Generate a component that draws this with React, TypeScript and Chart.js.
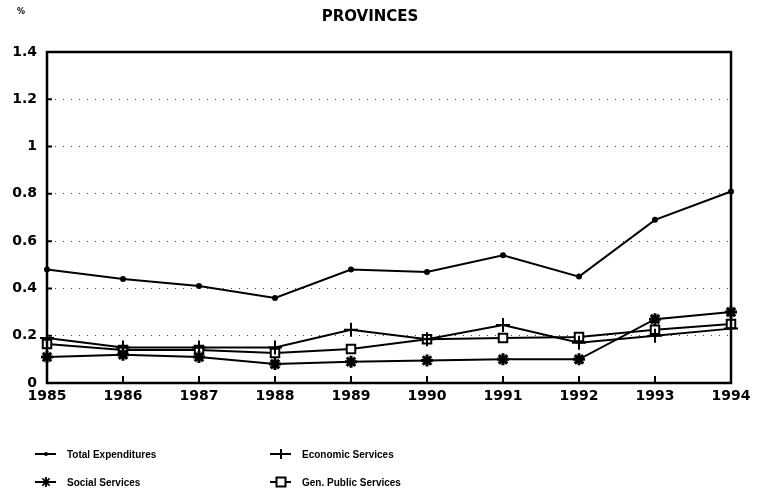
import React, { useEffect, useRef } from "react";
import { Chart, registerables } from "chart.js";

Chart.register(...registerables);

const years = ["1985", "1986", "1987", "1988", "1989", "1990", "1991", "1992", "1993", "1994"];
const totalExpenditures = [0.48, 0.44, 0.41, 0.36, 0.48, 0.47, 0.54, 0.45, 0.69, 0.81];
const economicServices = [0.19, 0.15, 0.15, 0.15, 0.225, 0.185, 0.245, 0.17, 0.2, 0.23];
const socialServices = [0.11, 0.12, 0.11, 0.08, 0.09, 0.095, 0.1, 0.1, 0.27, 0.3];
const genPublicServices = [0.165, 0.14, 0.14, 0.127, 0.144, 0.185, 0.19, 0.195, 0.225, 0.25];
const seriesLabels = ["Total Expenditures", "Economic Services", "Social Services", "Gen. Public Services"];
const yTicks = [0, 0.2, 0.4, 0.6, 0.8, 1, 1.2, 1.4];
const chartTitle = "PROVINCES";
const unitLabel = "%";

const FONT = "'DejaVu Sans', sans-serif";

function drawMarker(ctx: CanvasRenderingContext2D, style: string, x: number, y: number, r: number) {
  ctx.save();
  ctx.strokeStyle = "#000";
  ctx.fillStyle = "#000";
  if (style === "circle") {
    ctx.beginPath();
    ctx.arc(x, y, r, 0, Math.PI * 2);
    ctx.fill();
  } else if (style === "cross") {
    ctx.lineWidth = 2;
    ctx.beginPath();
    ctx.moveTo(x, y - r);
    ctx.lineTo(x, y + r);
    ctx.moveTo(x - r, y);
    ctx.lineTo(x + r, y);
    ctx.stroke();
  } else if (style === "star") {
    ctx.lineWidth = 1.8;
    ctx.beginPath();
    for (let k = 0; k < 4; k++) {
      const a = (k * Math.PI) / 4;
      ctx.moveTo(x + Math.cos(a) * r, y + Math.sin(a) * r);
      ctx.lineTo(x - Math.cos(a) * r, y - Math.sin(a) * r);
    }
    ctx.stroke();
  } else if (style === "rect") {
    ctx.lineWidth = 2;
    ctx.fillStyle = "#fff";
    const s = r * 0.75;
    ctx.fillRect(x - s, y - s, 2 * s, 2 * s);
    ctx.strokeRect(x - s, y - s, 2 * s, 2 * s);
  }
  ctx.restore();
}

const decorPlugin = {
  id: "decor",
  afterDraw(chart: any) {
    const { ctx, chartArea } = chart;
    const { left, right, top, bottom } = chartArea;
    const xs = chart.scales.x;
    const ys = chart.scales.y;
    ctx.save();
    // box
    ctx.strokeStyle = "#000";
    ctx.lineWidth = 2.5;
    ctx.strokeRect(left, top, right - left, bottom - top);
    // inward ticks
    ctx.lineWidth = 2;
    ctx.beginPath();
    for (const v of yTicks) {
      const py = ys.getPixelForValue(v);
      ctx.moveTo(left, py);
      ctx.lineTo(left + 5, py);
    }
    years.forEach((_, i) => {
      const px = xs.getPixelForValue(i);
      ctx.moveTo(px, bottom);
      ctx.lineTo(px, bottom - 7);
    });
    ctx.stroke();
    // title
    ctx.fillStyle = "#000";
    ctx.textAlign = "center";
    ctx.textBaseline = "middle";
    ctx.font = `bold 15px ${FONT}`;
    ctx.fillText(chartTitle, 370, 17);
    ctx.font = `bold 8px ${FONT}`;
    ctx.fillText(unitLabel, 21, 12);
    // legend
    const cols = [35, 270];
    const rows = [454, 482];
    ctx.textAlign = "left";
    ctx.font = `bold 10px 'Liberation Sans', sans-serif`;
    chart.data.datasets.forEach((ds: any, i: number) => {
      const x = cols[i % 2];
      const y = rows[Math.floor(i / 2)];
      ctx.strokeStyle = "#000";
      ctx.lineWidth = 2;
      ctx.beginPath();
      ctx.moveTo(x, y);
      ctx.lineTo(x + 21, y);
      ctx.stroke();
      const r = ds.pointStyle === "circle" ? 2 : ds.pointStyle === "rect" ? 6 : 5;
      drawMarker(ctx, ds.pointStyle, x + 11, y, r);
      ctx.fillStyle = "#000";
      ctx.fillText(ds.label, x + 32, y + 1);
    });
    ctx.restore();
  },
};

export default function App() {
  const ref = useRef<HTMLCanvasElement>(null);
  useEffect(() => {
    document.body.style.margin = "0";
    const common = {
      borderColor: "#000",
      borderWidth: 2,
      pointBorderColor: "#000",
      tension: 0,
    };
    const chart = new Chart(ref.current!, {
      type: "line",
      data: {
        labels: years,
        datasets: [
          { ...common, label: seriesLabels[0], data: totalExpenditures, pointStyle: "circle", pointRadius: 2, pointBackgroundColor: "#000" },
          { ...common, label: seriesLabels[1], data: economicServices, pointStyle: "cross", pointRadius: 7, pointBorderWidth: 2 },
          { ...common, label: seriesLabels[2], data: socialServices, pointStyle: "star", pointRadius: 6, pointBorderWidth: 3 },
          { ...common, label: seriesLabels[3], data: genPublicServices, pointStyle: "rect", pointRadius: 6, pointBorderWidth: 2, pointBackgroundColor: "#fff" },
        ],
      },
      options: {
        responsive: false,
        animation: false,
        layout: { padding: { left: 0, top: 52, right: 31, bottom: 0 } },
        plugins: { legend: { display: false }, title: { display: false }, tooltip: { enabled: false } },
        scales: {
          x: {
            offset: false,
            grid: { display: false, drawTicks: false },
            border: { display: false },
            ticks: { color: "#000", font: { family: FONT, weight: "bold", size: 14 }, padding: 5, maxRotation: 0, autoSkip: false },
            afterFit: (s: any) => { s.height = 114; },
          },
          y: {
            min: 0,
            max: 1.4,
            grid: {
              drawTicks: false,
              color: (c: any) => (c.tick && (c.tick.value === 0 || Math.abs(c.tick.value - 1.4) < 1e-6) ? "rgba(0,0,0,0)" : "#444"),
              lineWidth: 1,
            },
            border: { display: false, dash: [1, 7] },
            ticks: {
              stepSize: 0.2,
              color: "#000",
              font: { family: FONT, weight: "bold", size: 14 },
              padding: 10,
              callback: (v: any) => String(Math.round(Number(v) * 10) / 10),
            },
            afterFit: (s: any) => { s.width = 47; },
          },
        },
      },
      plugins: [decorPlugin],
    } as any);
    return () => chart.destroy();
  }, []);
  return (
    <div style={{ position: "absolute", left: 0, top: 0, width: 762, height: 497 }}>
      <canvas ref={ref} width={762} height={497} />
    </div>
  );
}
